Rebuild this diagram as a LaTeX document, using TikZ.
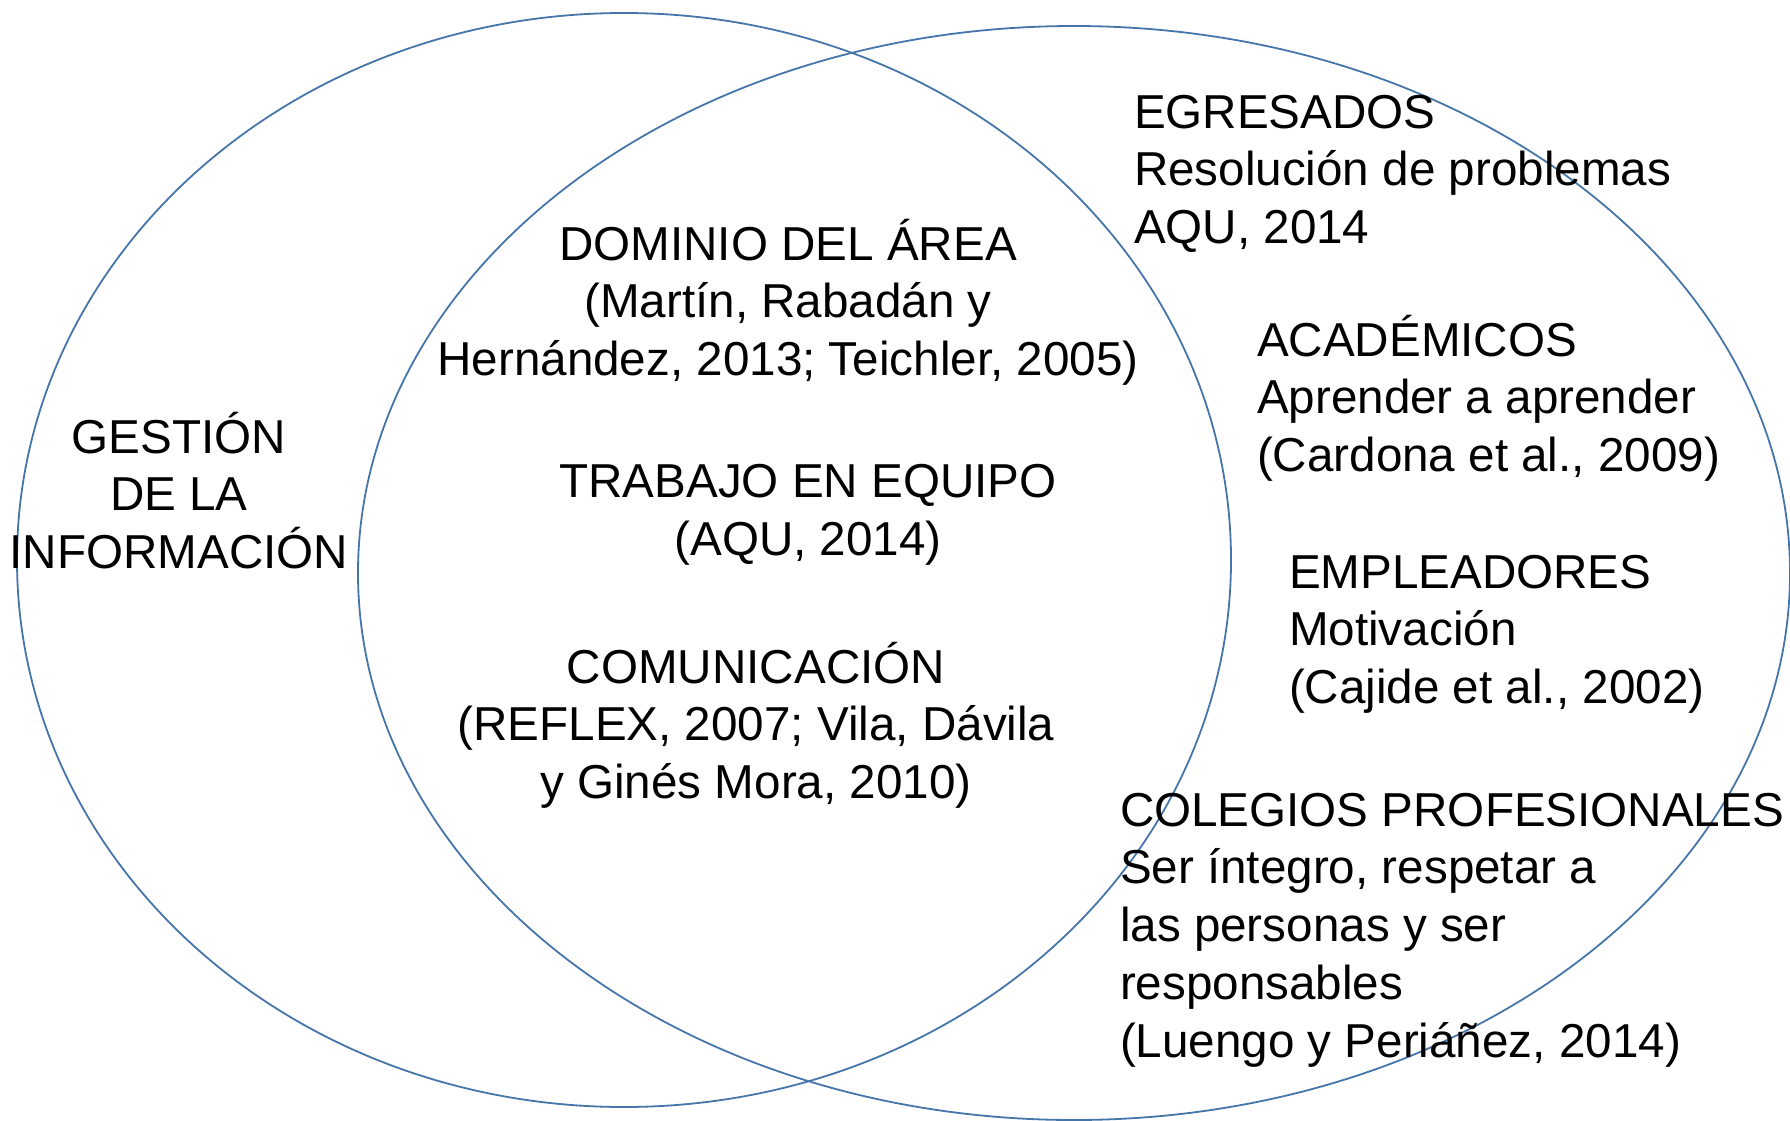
\documentclass[tikz,border=0pt]{standalone}
\usepackage{fontspec}
\setmainfont{Liberation Sans}
\definecolor{vennline}{RGB}{70,117,170}
\newcommand\vennblockc[1]{\vtop{\baselineskip=57.8pt\lineskiplimit=-1000pt\halign{\hfil##\hfil\cr#1\crcr}}}
\newcommand\vennblockl[1]{\vtop{\baselineskip=57.8pt\lineskiplimit=-1000pt\halign{##\hfil\cr#1\crcr}}}
\tikzset{
  venn/.style={draw=vennline, line width=1.8pt},
  lbl/.style={inner sep=0pt, outer sep=0pt, font=\fontsize{47.6}{57.8}\selectfont}
}
\begin{document}
\begin{tikzpicture}[x=1pt,y=-1pt]
\useasboundingbox (0,0) rectangle (1790,1120);
% ellipses
\draw[venn] (624,560) ellipse [x radius=607pt, y radius=547pt];
\draw[venn] (1074,573) ellipse [x radius=716pt, y radius=547pt];
% left set
\node[lbl, anchor=base] (gestion) at (179,453)
  {\vennblockc{GESTIÓN\cr DE LA\cr INFORMACIÓN}};
% intersection
\node[lbl, anchor=base] (dominio) at (788,260)
  {\vennblockc{DOMINIO DEL ÁREA\cr (Martín, Rabadán y\cr Hernández, 2013; Teichler, 2005)}};
\node[lbl, anchor=base] (trabajo) at (808,497.5)
  {\vennblockc{TRABAJO EN EQUIPO\cr (AQU, 2014)}};
\node[lbl, anchor=base] (comunic) at (756,683)
  {\vennblockc{COMUNICACIÓN\cr (REFLEX, 2007; Vila, Dávila\cr y Ginés Mora, 2010)}};
% right set
\node[lbl, anchor=base west] (egresados) at (1134,128)
  {\vennblockl{EGRESADOS\cr Resolución de problemas\cr AQU, 2014}};
\node[lbl, anchor=base west] (academicos) at (1257,356)
  {\vennblockl{ACADÉMICOS\cr Aprender a aprender\cr (Cardona et al., 2009)}};
\node[lbl, anchor=base west] (empleadores) at (1289,588)
  {\vennblockl{EMPLEADORES\cr Motivación\cr (Cajide et al., 2002)}};
\node[lbl, anchor=base west] (colegios) at (1120,826)
  {\vennblockl{COLEGIOS PROFESIONALES\cr Ser íntegro, respetar a\cr las personas y ser\cr responsables\cr (Luengo y Periáñez, 2014)}};
\end{tikzpicture}
\end{document}
